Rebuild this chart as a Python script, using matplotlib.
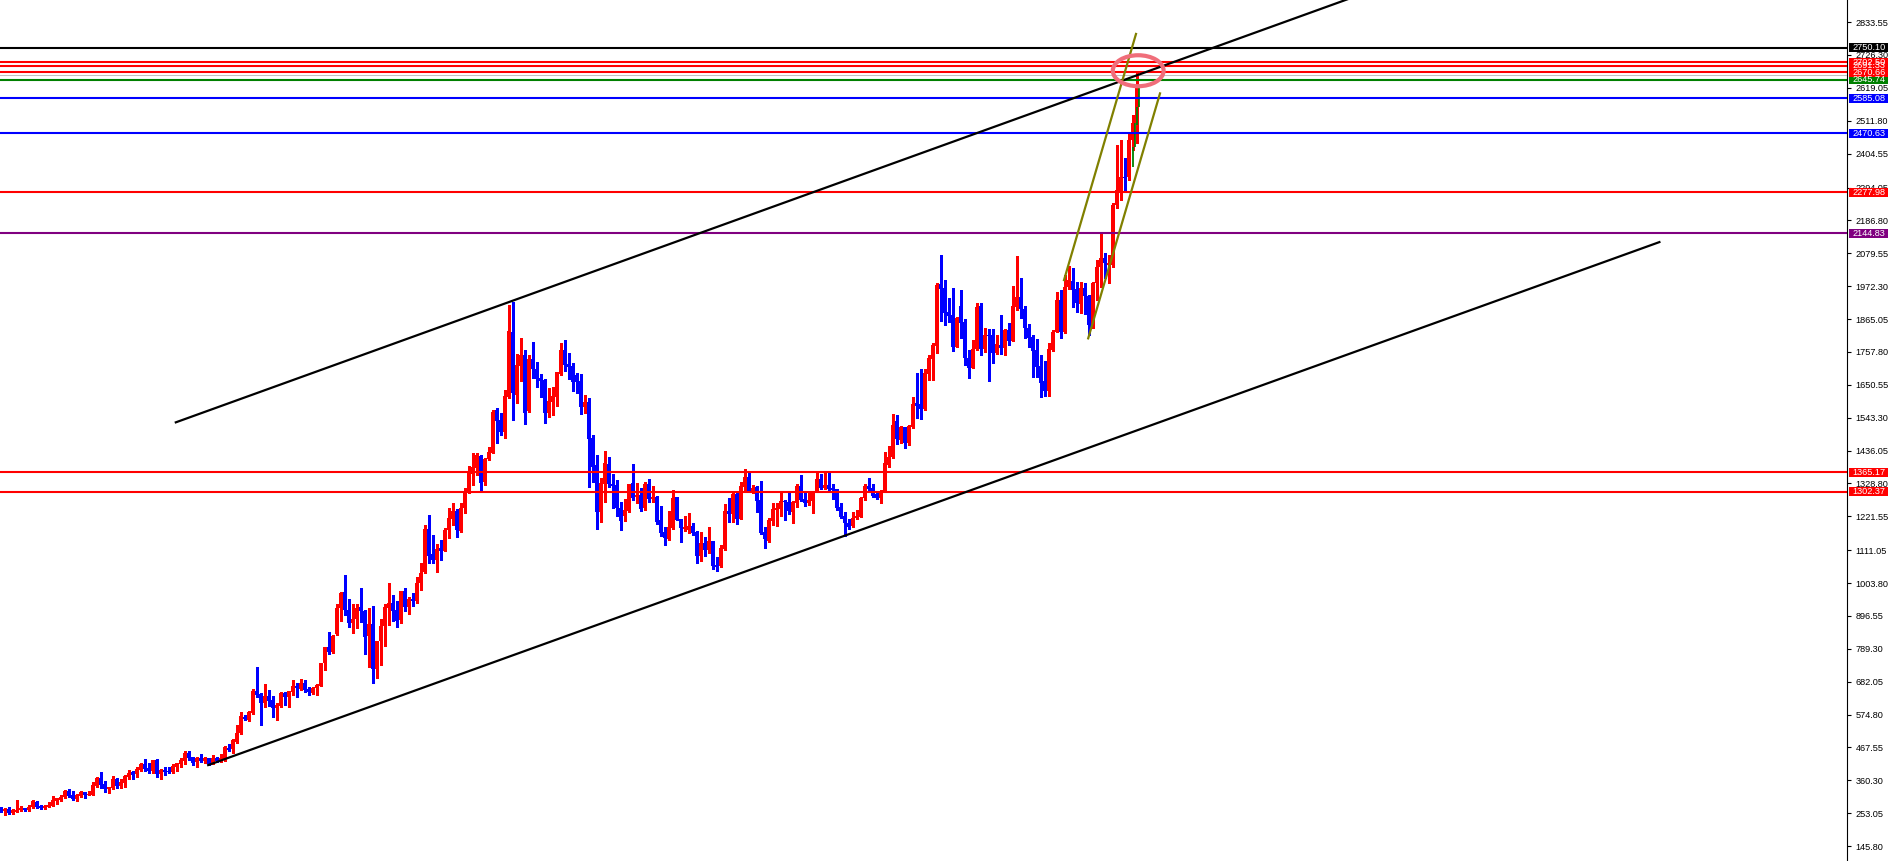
import numpy as np
import matplotlib.pyplot as plt
from matplotlib.patches import Ellipse, Rectangle
from matplotlib.transforms import blended_transform_factory

plt.rcParams['font.family'] = ['Liberation Sans', 'DejaVu Sans']

# weekly candles
opens = [271, 261, 267, 255, 258, 262, 270, 262, 272, 290,
         277, 270, 274, 278, 293, 296, 305, 327, 313, 298,
         310, 322, 313, 313, 342, 369, 348, 332, 335, 363,
         343, 353, 371, 386, 382, 394, 414, 400, 390, 427,
         382, 394, 392, 388, 404, 415, 424, 451, 436, 419,
         433, 423, 433, 415, 434, 423, 427, 467, 461, 486,
         515, 568, 557, 579, 652, 642, 614, 635, 622, 595,
         603, 644, 633, 650, 668, 657, 677, 658, 646, 660,
         669, 742, 794, 780, 838, 921, 974, 916, 875, 886,
         925, 914, 831, 870, 725, 816, 864, 921, 938, 916,
         883, 978, 925, 952, 946, 1005, 1041, 1179, 1098, 1079,
         1117, 1109, 1177, 1213, 1240, 1175, 1248, 1302, 1360, 1378,
         1418, 1335, 1407, 1429, 1568, 1536, 1498, 1612, 1822, 1617,
         1712, 1748, 1566, 1734, 1701, 1674, 1666, 1557, 1595, 1612,
         1686, 1764, 1717, 1712, 1682, 1664, 1579, 1594, 1477, 1389,
         1237, 1327, 1392, 1327, 1324, 1249, 1224, 1240, 1329, 1283,
         1291, 1248, 1327, 1279, 1286, 1209, 1171, 1148, 1182, 1283,
         1213, 1181, 1177, 1190, 1171, 1092, 1133, 1112, 1142, 1063,
         1059, 1114, 1239, 1229, 1294, 1212, 1318, 1351, 1301, 1318,
         1275, 1171, 1142, 1206, 1242, 1245, 1273, 1269, 1237, 1266,
         1320, 1277, 1264, 1273, 1303, 1344, 1314, 1325, 1314, 1310,
         1253, 1223, 1201, 1190, 1215, 1220, 1280, 1320, 1314, 1293,
         1280, 1300, 1389, 1414, 1534, 1470, 1514, 1460, 1514, 1590,
         1588, 1570, 1686, 1735, 1777, 1979, 1965, 1888, 1878, 1775,
         1908, 1856, 1739, 1704, 1766, 1908, 1767, 1812, 1812, 1753,
         1780, 1769, 1829, 1794, 1905, 1938, 1898, 1837, 1808, 1764,
         1712, 1663, 1630, 1764, 1822, 1927, 1822, 1968, 1990, 1962,
         1914, 1965, 1940, 1843, 1981, 2034, 2063, 2041, 2041, 2237,
         2281, 2329, 2329, 2449, 2503]
highs = [273, 269, 272, 268, 296, 277, 270, 280, 296, 293,
         280, 280, 289, 308, 303, 313, 330, 332, 327, 315,
         327, 322, 324, 355, 371, 388, 358, 338, 374, 368,
         364, 378, 394, 391, 404, 417, 430, 416, 428, 429,
         398, 405, 405, 413, 417, 432, 456, 456, 436, 436,
         446, 436, 433, 443, 436, 446, 472, 479, 494, 542,
         583, 573, 587, 657, 731, 646, 675, 655, 635, 612,
         650, 650, 652, 688, 677, 691, 688, 666, 666, 675,
         744, 796, 844, 834, 934, 974, 1030, 951, 936, 936,
         988, 916, 921, 929, 816, 886, 934, 1003, 965, 945,
         978, 987, 959, 970, 1025, 1068, 1193, 1226, 1161, 1130,
         1144, 1182, 1248, 1264, 1244, 1264, 1313, 1386, 1427, 1429,
         1422, 1411, 1449, 1568, 1574, 1557, 1634, 1911, 1922, 1751,
         1802, 1764, 1748, 1791, 1726, 1686, 1669, 1639, 1644, 1691,
         1788, 1797, 1753, 1723, 1688, 1686, 1617, 1606, 1487, 1422,
         1345, 1435, 1416, 1360, 1340, 1269, 1278, 1327, 1392, 1329,
         1313, 1332, 1343, 1321, 1288, 1255, 1188, 1240, 1307, 1286,
         1213, 1223, 1231, 1199, 1175, 1171, 1155, 1188, 1142, 1090,
         1128, 1262, 1280, 1296, 1302, 1335, 1375, 1364, 1324, 1320,
         1338, 1188, 1215, 1266, 1264, 1296, 1275, 1296, 1273, 1327,
         1356, 1299, 1302, 1305, 1366, 1360, 1362, 1366, 1327, 1312,
         1266, 1237, 1212, 1237, 1242, 1286, 1327, 1345, 1327, 1301,
         1307, 1432, 1451, 1555, 1552, 1517, 1514, 1519, 1612, 1688,
         1701, 1701, 1748, 1786, 1984, 2074, 1992, 1933, 1967, 1871,
         1960, 1864, 1764, 1797, 1918, 1916, 1835, 1831, 1831, 1813,
         1878, 1831, 1851, 1973, 2071, 1998, 1908, 1849, 1813, 1799,
         1748, 1728, 1786, 1829, 1954, 1960, 2009, 2038, 2030, 1987,
         1987, 1984, 1943, 1987, 2058, 2145, 2079, 2074, 2243, 2433,
         2449, 2389, 2476, 2531, 2667]
lows = [257, 248, 251, 252, 258, 261, 261, 261, 269, 270,
        267, 267, 273, 277, 284, 294, 303, 306, 296, 293,
        307, 304, 312, 312, 338, 336, 323, 318, 331, 336,
        336, 338, 366, 363, 372, 392, 392, 385, 385, 372,
        366, 379, 383, 383, 392, 405, 415, 427, 411, 405,
        419, 417, 410, 415, 419, 420, 424, 457, 450, 483,
        510, 557, 555, 577, 633, 541, 598, 603, 568, 557,
        601, 606, 598, 639, 631, 655, 650, 639, 642, 639,
        669, 720, 772, 775, 834, 881, 900, 859, 842, 856,
        878, 771, 731, 679, 693, 737, 800, 867, 880, 862,
        875, 911, 902, 929, 940, 981, 1038, 1068, 1068, 1041,
        1079, 1109, 1152, 1193, 1155, 1171, 1233, 1297, 1324, 1356,
        1305, 1324, 1405, 1427, 1460, 1487, 1476, 1606, 1536, 1592,
        1664, 1523, 1563, 1672, 1642, 1610, 1525, 1544, 1553, 1581,
        1682, 1697, 1669, 1631, 1623, 1554, 1560, 1318, 1335, 1179,
        1204, 1269, 1318, 1248, 1224, 1177, 1207, 1237, 1275, 1266,
        1240, 1242, 1269, 1269, 1196, 1157, 1128, 1144, 1179, 1209,
        1139, 1175, 1166, 1161, 1070, 1077, 1093, 1103, 1049, 1044,
        1055, 1112, 1202, 1204, 1196, 1212, 1307, 1303, 1296, 1237,
        1164, 1117, 1139, 1193, 1190, 1224, 1209, 1229, 1199, 1251,
        1273, 1255, 1258, 1231, 1302, 1310, 1310, 1307, 1279, 1242,
        1215, 1157, 1179, 1188, 1212, 1218, 1275, 1300, 1286, 1277,
        1264, 1300, 1381, 1411, 1457, 1460, 1443, 1454, 1511, 1541,
        1538, 1568, 1666, 1666, 1755, 1860, 1846, 1856, 1762, 1773,
        1802, 1715, 1674, 1704, 1764, 1748, 1759, 1664, 1721, 1750,
        1751, 1748, 1780, 1794, 1894, 1867, 1802, 1773, 1677, 1677,
        1612, 1614, 1615, 1762, 1822, 1802, 1818, 1962, 1905, 1889,
        1884, 1881, 1813, 1835, 1927, 1970, 2000, 1981, 2036, 2226,
        2253, 2281, 2319, 2416, 2440]
closes = [260, 268, 255, 265, 264, 271, 264, 274, 294, 273,
          270, 277, 280, 296, 303, 306, 327, 310, 298, 313,
          322, 313, 316, 344, 369, 346, 332, 338, 365, 343,
          355, 376, 384, 379, 398, 414, 397, 390, 426, 382,
          395, 389, 389, 407, 417, 428, 451, 434, 418, 434,
          422, 434, 415, 433, 423, 434, 470, 459, 492, 515,
          570, 559, 582, 653, 639, 612, 635, 620, 595, 607,
          646, 633, 652, 668, 660, 677, 655, 647, 663, 671,
          742, 794, 780, 831, 921, 970, 916, 875, 886, 921,
          911, 829, 870, 722, 816, 864, 927, 940, 914, 881,
          978, 925, 951, 946, 1005, 1038, 1179, 1092, 1079, 1114,
          1109, 1177, 1215, 1240, 1177, 1248, 1302, 1367, 1383, 1422,
          1331, 1407, 1432, 1563, 1534, 1498, 1614, 1826, 1623, 1715,
          1748, 1560, 1734, 1701, 1668, 1664, 1557, 1598, 1614, 1691,
          1764, 1715, 1707, 1661, 1661, 1579, 1594, 1475, 1383, 1237,
          1329, 1397, 1327, 1321, 1250, 1207, 1242, 1327, 1280, 1291,
          1244, 1327, 1277, 1286, 1204, 1166, 1150, 1186, 1280, 1209,
          1182, 1186, 1190, 1166, 1092, 1133, 1112, 1142, 1059, 1055,
          1117, 1239, 1229, 1294, 1213, 1320, 1351, 1305, 1313, 1273,
          1166, 1146, 1209, 1244, 1250, 1273, 1267, 1240, 1269, 1320,
          1275, 1264, 1275, 1305, 1344, 1313, 1325, 1312, 1307, 1248,
          1220, 1199, 1186, 1217, 1223, 1282, 1320, 1310, 1289, 1280,
          1300, 1394, 1414, 1519, 1473, 1514, 1462, 1517, 1588, 1582,
          1572, 1688, 1737, 1780, 1976, 1962, 1886, 1875, 1775, 1867,
          1853, 1737, 1706, 1767, 1905, 1767, 1812, 1810, 1755, 1783,
          1772, 1829, 1793, 1908, 1938, 1898, 1835, 1802, 1762, 1707,
          1655, 1630, 1767, 1824, 1927, 1824, 1971, 1992, 1960, 1916,
          1965, 1940, 1846, 1984, 2036, 2063, 2047, 2047, 2237, 2286,
          2329, 2324, 2449, 2503, 2625]

# green overlay bars on the last candles
green_x = [283.0, 283.5, 284.0, 284.5]
green_lo = [2362, 2427, 2498, 2558]
green_hi = [2427, 2504, 2558, 2619]

# horizontal levels
level_prices = [2750.10, 2660.00, 2645.74, 2702.50, 2691.33, 2670.66,
                2585.08, 2470.63, 2277.98, 2144.83, 1365.17, 1302.37]
level_labels = ['2750.10', '', '2645.74', '2702.50', '2691.33', '2670.66',
                '2585.08', '2470.63', '2277.98', '2144.83', '1365.17', '1302.37']
level_colors = ['#000000', '#c0c0c0', '#008000', '#ff0000', '#ff0000', '#ff0000',
                '#0000ff', '#0000ff', '#ff0000', '#800080', '#ff0000', '#ff0000']

# trend lines (bar index, price)
channel_lines = [((43.7, 1528), (340.0, 2924)),
                 ((51.8, 410), (414.6, 2116))]
olive_lines = [((265.75, 1992), (283.75, 2795)),
               ((271.8, 1802), (289.75, 2601))]
circle_center = (284.3, 2675)

tick_vals = [145.80, 253.05, 360.30, 467.55, 574.80, 682.05, 789.30, 896.55,
             1003.80, 1111.05, 1221.55, 1328.80, 1436.05, 1543.30, 1650.55,
             1757.80, 1865.05, 1972.30, 2079.55, 2186.80, 2294.05, 2404.55,
             2511.80, 2619.05, 2726.30, 2833.55]

W, H = 1889, 861
fig = plt.figure(figsize=(W / 100, H / 100), dpi=100)
ax = fig.add_axes([0, 0, 1847 / W, 1])

o = np.array(opens, float)
c = np.array(closes, float)
x = np.arange(len(o))
cols = np.where(c >= o, '#ff0000', '#0000ff')

ax.vlines(x, lows, highs, colors=cols, lw=0.8, antialiased=False, zorder=2)
bottom = np.minimum(o, c)
height = np.maximum(np.abs(c - o), 3.3)
ax.bar(x, height, bottom=bottom, width=0.8, color=cols, linewidth=0,
       antialiased=False, zorder=2)
ax.vlines(green_x, green_lo, green_hi, colors='#008000', lw=1.3, zorder=3)

for p, col in zip(level_prices, level_colors):
    ax.axhline(p, color=col, lw=0.75 if col == '#c0c0c0' else 1.5, zorder=3)

for (x0, y0), (x1, y1) in channel_lines:
    ax.plot([x0, x1], [y0, y1], color='black', lw=1.6, zorder=3)
for (x0, y0), (x1, y1) in olive_lines:
    ax.plot([x0, x1], [y0, y1], color='#808000', lw=1.6, zorder=3)

ax.add_patch(Ellipse(circle_center, 12.7, 101, fill=False,
                     edgecolor='#f06e7a', lw=3.0, zorder=4))

ax.set_xlim(-0.25, 461.5)
ax.set_ylim(97.1, 2905.7)

for s in ['left', 'top', 'bottom']:
    ax.spines[s].set_visible(False)
ax.spines['right'].set_linewidth(0.8)
ax.set_xticks([])
ax.yaxis.tick_right()
ax.set_yticks(tick_vals)
ax.set_yticklabels(['%.2f' % v for v in tick_vals])
ax.tick_params(axis='y', direction='out', length=3, width=0.8, pad=3,
               labelsize=6.6, colors='black')

trans = blended_transform_factory(fig.transFigure, ax.transData)
for p, lab, col in zip(level_prices, level_labels, level_colors):
    if not lab:
        continue
    ax.add_patch(Rectangle((1849 / W, p - 15.2), 39 / W, 30.4, transform=trans,
                           facecolor=col, edgecolor='none', clip_on=False, zorder=5))
    ax.text(1852 / W, p, lab, transform=trans, color='white', fontsize=6.6,
            va='center', ha='left', clip_on=False, zorder=6)

fig.savefig('out.png', dpi=100)
